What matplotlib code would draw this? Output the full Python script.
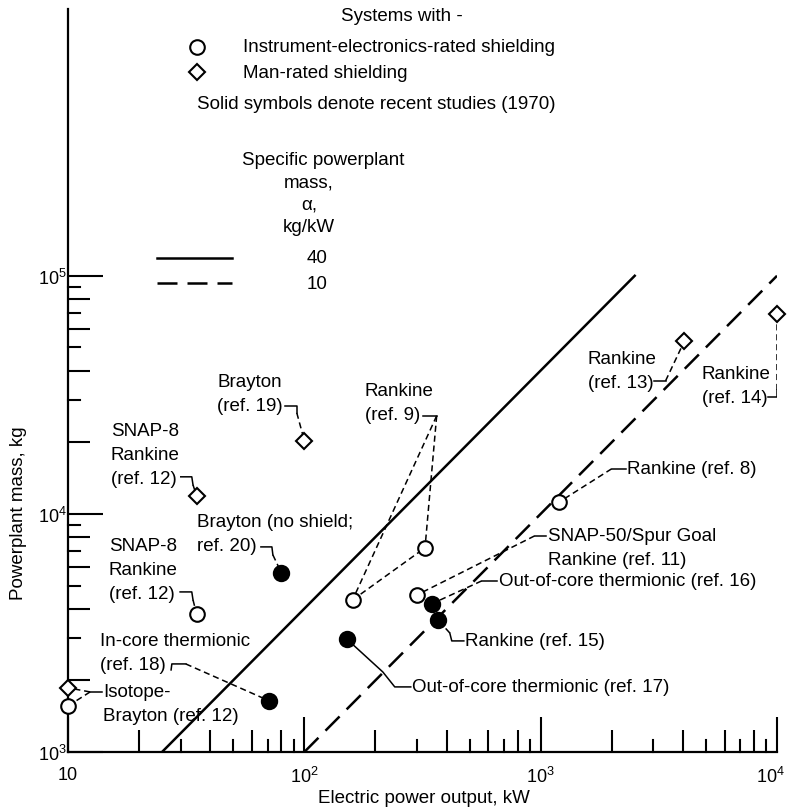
import numpy as np
import matplotlib
matplotlib.use("Agg")
import matplotlib.pyplot as plt
from matplotlib.ticker import NullFormatter
from matplotlib.transforms import ScaledTranslation

plt.rcParams["font.family"] = ["Liberation Sans", "DejaVu Sans"]
plt.rcParams["mathtext.fontset"] = "custom"
plt.rcParams["mathtext.rm"] = "Liberation Sans"
plt.rcParams["mathtext.it"] = "Liberation Sans:italic"

# specific powerplant mass lines (kg/kW) and the power range each one covers
alpha = [40, 10]
alpha_power = [[25, 2500], [100, 10000]]
alpha_style = ["-", (0, (8, 4))]

# instrument-electronics-rated shielding (open circles)
inst_power = [10, 35, 160, 324, 300, 1200]
inst_mass = [1560, 3800, 4350, 7200, 4570, 11230]

# man-rated shielding (open diamonds)
man_power = [10, 35, 100, 4060, 10000]
man_mass = [1860, 11900, 20300, 53300, 69200]

# recent studies, 1970 (solid circles)
recent_power = [80, 71, 151, 346, 367]
recent_mass = [5650, 1640, 2985, 4190, 3590]

inst = list(zip(inst_power, inst_mass))
man = list(zip(man_power, man_mass))
recent = list(zip(recent_power, recent_mass))

# point labels: text lines, left x and first line y (data units)
labels = [
  (["Brayton", "(ref. 19)"], 42.7, 35850),
  (["SNAP-8", "Rankine", "(ref. 12)"], 15.2, 22320),
  (["SNAP-8", "Rankine", "(ref. 12)"], 14.9, 7337),
  (["Brayton (no shield;", "ref. 20)"], 35.1, 9256),
  (["In-core thermionic", "(ref. 18)"], 13.65, 2927),
  (["Isotope-", "Brayton (ref. 12)"], 14.1, 1787),
  (["Rankine", "(ref. 9)"], 180, 32870),
  (["Rankine", "(ref. 13)"], 1580, 44810),
  (["Rankine", "(ref. 14)"], 4800, 38750),
  (["Rankine (ref. 8)"], 2310, 15460),
  (["SNAP-50/Spur Goal", "Rankine (ref. 11)"], 1071, 8084),
  (["Out-of-core thermionic (ref. 16)"], 664, 5230),
  (["Rankine (ref. 15)"], 477, 2927),
  (["Out-of-core thermionic (ref. 17)"], 285, 1876),
]

# leader lines: solid hook next to the text, dashed runs to the points
leaders = [
  ([(82.7, 28430), (92.9, 28430), (92.9, 26570)], [[(92.9, 26570), man[2]]]),
  ([(30.0, 14310), (33.4, 14310), (33.8, 13240)], [[(33.8, 13240), man[1]]]),
  ([(29.8, 4701), (33.4, 4701), (33.8, 4352)], [[(33.8, 4352), inst[1]]]),
  ([(65.5, 7266), (72.9, 7266), (73.6, 6725)], [[(73.6, 6725), recent[0]]]),
  ([(27.3, 2211), (27.5, 2343), (31.5, 2343)], [[(31.5, 2343), recent[1]]]),
  ([(13.9, 1787), (12.4, 1787)], [[(12.4, 1787), man[0]], [(12.4, 1787), inst[0]]]),
  ([(317, 25810), (363, 25810)], [[(363, 25810), inst[3]], [(363, 25810), inst[2]], [inst[2], inst[3]]]),
  ([(3004, 36210), (3377, 36210)], [[(3377, 36210), man[3]]]),
  ([(9117, 31000), (10000, 31000), (10000, 33190)], [[(10000, 33190), man[4]]]),
  ([(2290, 15460), (1996, 15460)], [[(1996, 15460), inst[5]]]),
  ([(1050, 8084), (943, 8084)], [[(943, 8084), inst[4]]]),
  ([(651, 5230), (563, 5230)], [[(563, 5230), recent[3]]]),
  ([(473, 2927), (420.5, 2927), (412.4, 3162)], [[(412.4, 3162), recent[4]]]),
  ([(282, 1876), (241.3, 1876), (214.8, 2168), recent[2]], []),
]

fs = 13.5

fig = plt.figure(figsize=(7.89, 8.12), dpi=100)
ax = fig.add_axes([0.0862, 0.0727, 0.8986, 0.9150])
ax.set_xscale("log")
ax.set_yscale("log")
ax.set_xlim(10, 1e4)
ax.set_ylim(1e3, 1.32e6)

for s in ["top", "right"]:
  ax.spines[s].set_visible(False)
for s in ["left", "bottom"]:
  ax.spines[s].set_linewidth(1.6)

# ticks
ax.set_xticks([10, 100, 1000, 10000], labels=["10", r"$10^2$", r"$10^3$", r"$10^4$"])
ax.set_yticks([1e3, 1e4, 1e5], labels=[r"$10^3$", r"$10^4$", r"$10^5$"])
ax.set_xticks([v * d for d in (10, 100, 1000) for v in (2, 4, 6, 8)], minor=True)
ax.set_yticks([v * d for d in (1e3, 1e4) for v in (2, 4, 6, 8)], minor=True)
ax.xaxis.set_minor_formatter(NullFormatter())
ax.yaxis.set_minor_formatter(NullFormatter())
ax.tick_params(which="major", direction="in", length=25, width=1.5, labelsize=13)
ax.tick_params(which="minor", direction="in", length=16, width=1.5)
ax.tick_params(axis="x", which="major", pad=10)
ax.tick_params(axis="y", which="major", pad=1)

# keep the last x label inside the figure
last = ax.get_xticklabels()[-1]
last.set_transform(last.get_transform() + ScaledTranslation(-5 / 72, 0, fig.dpi_scale_trans))

# short intermediate ticks
for d in (10, 100, 1000):
  for v in (3, 5, 7, 9):
    ax.plot([v * d, v * d], [0, 0.016], color="black", lw=1.5,
            transform=ax.get_xaxis_transform(), clip_on=False)
for d in (1e3, 1e4):
  for v in (3, 5, 7, 9):
    ax.plot([0, 0.017], [v * d, v * d], color="black", lw=1.5,
            transform=ax.get_yaxis_transform(), clip_on=False)

ax.set_xlabel("Electric power output, kW", fontsize=fs)
ax.xaxis.set_label_coords(0.502, -0.050)
ax.set_ylabel("Powerplant mass, kg", fontsize=fs)
ax.yaxis.set_label_coords(-0.058, 0.323)

# constant specific mass lines
for a, pr, ls in zip(alpha, alpha_power, alpha_style):
  p = np.array(pr, dtype=float)
  ax.plot(p, a * p, color="black", lw=1.8, linestyle=ls, zorder=2)

# leader lines
for solid, dashed in leaders:
  sx, sy = zip(*solid)
  ax.plot(sx, sy, color="black", lw=1.1, zorder=3)
  for seg in dashed:
    dx, dy = zip(*seg)
    ax.plot(dx, dy, color="black", lw=1.1, linestyle=(0, (4, 2.5)), zorder=3)

# points
ax.plot(inst_power, inst_mass, "o", ms=10.5, mfc="white", mec="black", mew=1.5,
        zorder=5, clip_on=False)
ax.plot(man_power, man_mass, "D", ms=8.5, mfc="white", mec="black", mew=1.5,
        zorder=5, clip_on=False)
ax.plot(recent_power, recent_mass, "o", ms=11, mfc="black", mec="black", mew=1.5,
        zorder=5, clip_on=False)

# point labels
for lines, x, y in labels:
  for i, line in enumerate(lines):
    ax.annotate(line, (x, y), xytext=(0, -17 * i), textcoords="offset points",
                ha="left", va="center", fontsize=fs)

# key
ta = ax.transAxes
ax.text(0.471, 0.991, "Systems with -", transform=ta, ha="center", va="center", fontsize=fs)
ax.plot(0.182, 0.949, "o", ms=10.5, mfc="white", mec="black", mew=1.5, transform=ta)
ax.text(0.247, 0.949, "Instrument-electronics-rated shielding", transform=ta,
        ha="left", va="center", fontsize=fs)
ax.plot(0.182, 0.915, "D", ms=8.5, mfc="white", mec="black", mew=1.5, transform=ta)
ax.text(0.247, 0.915, "Man-rated shielding", transform=ta, ha="left", va="center", fontsize=fs)
ax.text(0.182, 0.873, "Solid symbols denote recent studies (1970)", transform=ta,
        ha="left", va="center", fontsize=fs)

ax.text(0.245, 0.798, "Specific powerplant", transform=ta, ha="left", va="center", fontsize=fs)
ax.text(0.340, 0.767, "mass,", transform=ta, ha="center", va="center", fontsize=fs)
ax.text(0.340, 0.738, "α,", transform=ta, ha="center", va="center", fontsize=fs)
ax.text(0.340, 0.707, "kg/kW", transform=ta, ha="center", va="center", fontsize=fs)

key_y = [0.665, 0.631]
for a, ls, ky in zip(alpha, alpha_style, key_y):
  ax.plot([0.126, 0.232], [ky, ky], color="black", lw=1.8, linestyle=ls, transform=ta)
  ax.text(0.351, ky, str(a), transform=ta, ha="center", va="center", fontsize=fs)

fig.savefig("out.png", dpi=100)
